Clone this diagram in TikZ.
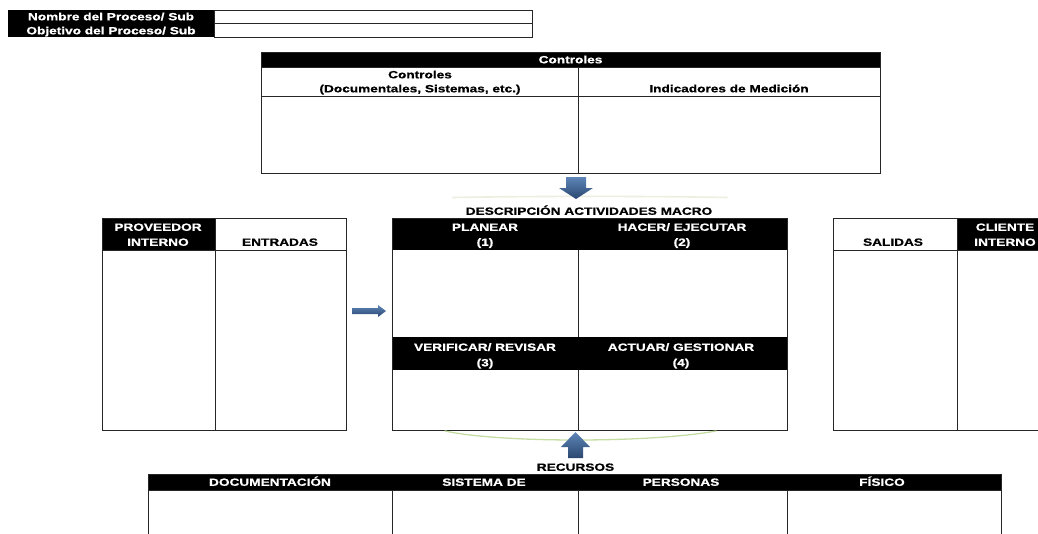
\documentclass[tikz,border=0pt]{standalone}
\usepackage{fontspec}
\setmainfont{Liberation Sans}
\newfontfamily\lblfont{Liberation Sans}[FakeStretch=1.3, BoldFeatures={FakeBold=0.7}]
\definecolor{gridline}{HTML}{262626}
\definecolor{arrowlight}{HTML}{5E86B8}
\definecolor{arrowdark}{HTML}{2A4770}
\definecolor{arcgreen}{HTML}{C4DCA2}
\definecolor{arcpale}{HTML}{ECEFE0}
\begin{document}
\begin{tikzpicture}[x=1pt,y=-1pt,
  grid/.style={draw=gridline, line width=0.9pt},
  headfill/.style={fill=black},
  lbl/.style={font=\lblfont\bfseries\fontsize{10.5}{14}\selectfont,
    inner sep=0pt, text height=7.6pt, text depth=0pt, anchor=center},
  wlabel/.style={lbl, text=white},
  blabel/.style={lbl, text=black},
  blockarrow/.style={top color=arrowlight, bottom color=arrowdark, draw=none}
]
\useasboundingbox (0,0) rectangle (1038,533);

% ---- process name / objective strip
\fill[headfill] (8,10) rectangle (214,37);
\draw[grid] (214,10) rectangle (532,37);
\draw[grid] (214,23.5) -- (532,23.5);
\node[wlabel] (nombre) at (111,16.5) {Nombre del Proceso/ Sub};
\node[wlabel] (objetivo) at (111,30.5) {Objetivo del Proceso/ Sub};

% ---- controls table
\fill[headfill] (261,52) rectangle (880,67);
\draw[grid] (261,52) rectangle (880,173);
\draw[grid] (261,67) -- (880,67);
\draw[grid] (261,96) -- (880,96);
\draw[grid] (578,67) -- (578,173);
\node[wlabel] (controles) at (570.5,59.5) {Controles};
\node[blabel] (ctrlA) at (420,74.5) {Controles};
\node[blabel] (ctrlB) at (420,88.5) {(Documentales, Sistemas, etc.)};
\node[blabel] (indic) at (729,88.5) {Indicadores de Medición};

% ---- arrow from controls down to activities
\draw[arcpale, line width=1.6pt, line cap=round] (453,197.5) .. controls (540,196) and (640,196) .. (727,197.5);
\shade[blockarrow] (566,177) -- (586,177) -- (586,188) -- (593,188) -- (576,199)
  -- (559,188) -- (566,188) -- cycle;

\node[blabel] (desc) at (589,211) {DESCRIPCIÓN ACTIVIDADES MACRO};

% ---- supplier / inputs
\fill[headfill] (102,218) rectangle (215,250);
\draw[grid] (102,218) rectangle (346,430);
\draw[grid] (102,250) -- (346,250);
\draw[grid] (215,218) -- (215,430);
\node[wlabel] (prov1) at (158,227) {PROVEEDOR};
\node[wlabel] (prov2) at (158,242) {INTERNO};
\node[blabel] (entradas) at (280,242) {ENTRADAS};

% ---- arrow into activities
\shade[blockarrow] (352,308) -- (378,308) -- (378,305) -- (386,311) -- (378,317)
  -- (378,314) -- (352,314) -- cycle;

% ---- PHVA activities
\fill[headfill] (392,218) rectangle (787,250);
\fill[headfill] (392,337) rectangle (787,370);
\draw[grid] (392,218) rectangle (787,430);
\draw[grid] (578,250) -- (578,337);
\draw[grid] (578,370) -- (578,430);
\node[wlabel] (planear) at (485,227) {PLANEAR};
\node[wlabel] (n1) at (485,242) {(1)};
\node[wlabel] (hacer) at (682,227) {HACER/ EJECUTAR};
\node[wlabel] (n2) at (682,242) {(2)};
\node[wlabel] (verificar) at (485,347) {VERIFICAR/ REVISAR};
\node[wlabel] (n3) at (485,362.5) {(3)};
\node[wlabel] (actuar) at (681,347) {ACTUAR/ GESTIONAR};
\node[wlabel] (n4) at (681,362.5) {(4)};

% ---- outputs / client
\fill[headfill] (957,218) rectangle (1038,250);
\draw[grid] (1040,218) -- (833,218) -- (833,430) -- (1040,430);
\draw[grid] (833,250) -- (1040,250);
\draw[grid] (957,218) -- (957,430);
\node[blabel] (salidas) at (893,242) {SALIDAS};
\node[wlabel] (cli1) at (1005,227) {CLIENTE};
\node[wlabel] (cli2) at (1005,242) {INTERNO};

% ---- resources arrow and arc
\draw[arcgreen, line width=1.3pt, line cap=round] (445,431) .. controls (500,443) and (650,443) .. (716,431);
\shade[blockarrow] (575.5,432) -- (590,447) -- (583,447) -- (583,458) -- (568,458)
  -- (568,447) -- (561,447) -- cycle;
\node[blabel] (recursos) at (575.5,467) {RECURSOS};

% ---- resources table
\fill[headfill] (148,474) rectangle (1001,490);
\draw[grid] (148,540) -- (148,474) -- (1001,474) -- (1001,540);
\draw[grid] (148,490) -- (1001,490);
\foreach \xx in {392,578,787} \draw[grid] (\xx,490) -- (\xx,540);
\node[wlabel] (docu) at (270,482) {DOCUMENTACIÓN};
\node[wlabel] (sist) at (484,482) {SISTEMA DE};
\node[wlabel] (pers) at (681,482) {PERSONAS};
\node[wlabel] (fisi) at (882,482) {FÍSICO};
\end{tikzpicture}
\end{document}
